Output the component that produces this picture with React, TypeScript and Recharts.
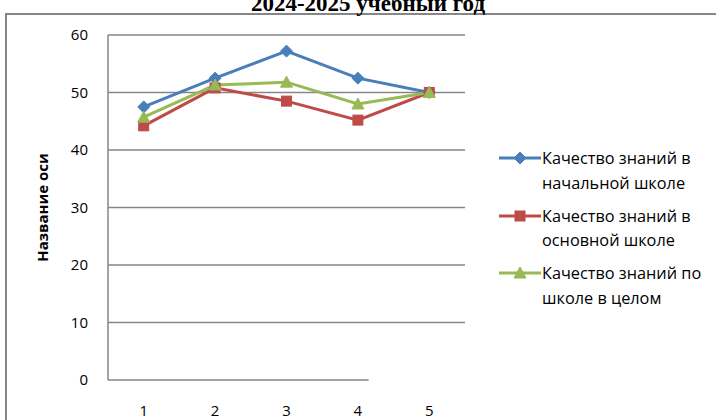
import React from 'react'
import { LineChart, Line, XAxis, YAxis, ReferenceLine } from 'recharts'

const categories = [1, 2, 3, 4, 5]
const primary = [47.5, 52.5, 57.2, 52.5, 50]
const basic = [44.2, 50.8, 48.5, 45.2, 50]
const whole = [45.7, 51.3, 51.8, 48, 50]
const yTicks = [0, 10, 20, 30, 40, 50, 60]

const seriesNames = [
  ['Качество знаний в', 'начальной школе'],
  ['Качество знаний в', 'основной школе'],
  ['Качество знаний по', 'школе в целом'],
]

const BLUE = '#4a7ebb'
const RED = '#be4b48'
const GREEN = '#98b954'
const GRID = '#868686'
const FONT = 'Open Sans, sans-serif'

const data = categories.map((c, i) => ({ x: c, primary: primary[i], basic: basic[i], whole: whole[i] }))

const Diamond = (p: any) => {
  const { cx, cy } = p
  if (cx == null || cy == null) return null
  const r = 6
  return <path d={`M${cx},${cy - r}L${cx + r},${cy}L${cx},${cy + r}L${cx - r},${cy}Z`} fill={BLUE} stroke={BLUE} />
}
const Square = (p: any) => {
  const { cx, cy } = p
  if (cx == null || cy == null) return null
  return <rect x={cx - 5} y={cy - 5} width={10} height={10} fill={RED} stroke={RED} />
}
const Triangle = (p: any) => {
  const { cx, cy } = p
  if (cx == null || cy == null) return null
  return <path d={`M${cx},${cy - 6}L${cx + 6},${cy + 5}L${cx - 6},${cy + 5}Z`} fill={GREEN} stroke={GREEN} />
}

const markers = [Diamond, Square, Triangle]
const colors = [BLUE, RED, GREEN]

function LegendBox() {
  return (
    <div style={{ position: 'absolute', left: 499, top: 146, fontFamily: FONT, fontSize: 16.3, color: '#000' }}>
      {seriesNames.map((lines, i) => {
        const M = markers[i]
        return (
          <div key={i} style={{ display: 'flex', alignItems: 'flex-start', height: 57.5 }}>
            <svg width={43} height={24} style={{ flex: 'none' }}>
              <line x1={0} y1={12} x2={42} y2={12} stroke={colors[i]} strokeWidth={3} />
              <M cx={21} cy={12} />
            </svg>
            <div style={{ lineHeight: '24.5px', whiteSpace: 'nowrap' }}>
              <div>{lines[0]}</div>
              <div>{lines[1]}</div>
            </div>
          </div>
        )
      })}
    </div>
  )
}

export default function App() {
  return (
    <div style={{ position: 'fixed', left: 0, top: 0, width: 716, height: 420, overflow: 'hidden', background: '#fff' }}>
      <div style={{ position: 'absolute', left: 5, top: 13, width: 740, height: 440, border: `2px solid ${GRID}` }} />
      <div style={{ position: 'absolute', left: 0, width: 736, top: -9, textAlign: 'center', fontFamily: 'Liberation Serif, serif', fontWeight: 'bold', fontSize: 23, lineHeight: '26px' }}>
        2024-2025 учебный год
      </div>
      <div style={{ position: 'absolute', left: 0, top: 0 }}>
        <LineChart width={716} height={420} data={data} margin={{ top: 35, right: 251, bottom: 0, left: 0 }}>
          <XAxis
            dataKey="x"
            type="number"
            domain={[0.5, 5.5]}
            ticks={categories}
            axisLine={false}
            tickLine={false}
            height={40}
            tickMargin={19}
            tick={{ fill: '#000', fontSize: 15, fontFamily: FONT }}
          />
          <YAxis
            domain={[0, 60]}
            ticks={yTicks}
            width={108}
            axisLine={{ stroke: GRID, strokeWidth: 1.5 }}
            tickLine={false}
            tickMargin={14}
            tick={{ fill: '#000', fontSize: 15, fontFamily: FONT }}
            label={{
              value: 'Название оси',
              angle: -90,
              position: 'insideLeft',
              offset: 43,
              style: { fontFamily: FONT, fontWeight: 'bold', fontSize: 15, fill: '#000', textAnchor: 'middle' },
            }}
          />
          {yTicks.slice(1).map((t) => (
            <ReferenceLine key={t} y={t} stroke={GRID} strokeWidth={1.5} />
          ))}
          <ReferenceLine segment={[{ x: 0.5, y: 0 }, { x: 4.15, y: 0 }]} stroke={GRID} strokeWidth={1.5} />
          <Line dataKey="primary" stroke={BLUE} strokeWidth={3} dot={<Diamond />} isAnimationActive={false} />
          <Line dataKey="basic" stroke={RED} strokeWidth={3} dot={<Square />} isAnimationActive={false} />
          <Line dataKey="whole" stroke={GREEN} strokeWidth={3} dot={<Triangle />} isAnimationActive={false} />
        </LineChart>
      </div>
      <LegendBox />
    </div>
  )
}
